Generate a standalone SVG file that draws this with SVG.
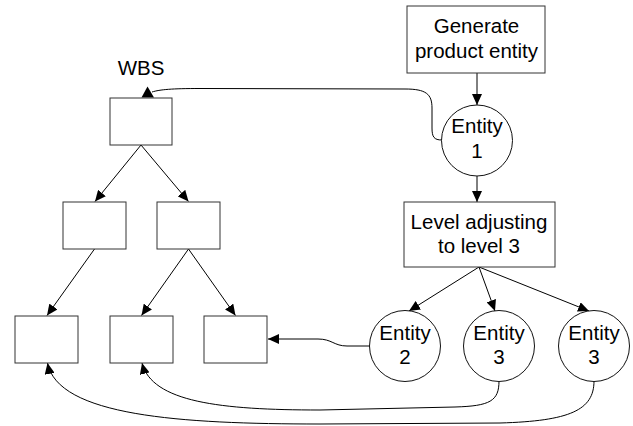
<svg xmlns="http://www.w3.org/2000/svg" width="633" height="426" viewBox="0 0 633 426">
<style>
.box{fill:#fff;stroke:#333;stroke-width:1}
.ent{fill:#fff;stroke:#111;stroke-width:1}
.ln{fill:none;stroke:#000;stroke-width:1}
.arr{marker-end:url(#ah)}
text{font-family:"Liberation Sans",Arial,sans-serif;font-size:20.5px;fill:#000;text-anchor:middle}
</style>
<defs>
<marker id="ah" viewBox="0 0 11 10" refX="11" refY="5" markerWidth="11" markerHeight="10" markerUnits="userSpaceOnUse" orient="auto">
<path d="M0,0 L11,5 L0,10 z" fill="#000"/>
</marker>
</defs>
<rect width="633" height="426" fill="#fff"/>
<g id="connectors">
<path class="ln arr" d="M141,145 L95,201.5"/>
<path class="ln arr" d="M141,145 L188.5,201.5"/>
<path class="ln arr" d="M94.5,249 L47,315.5"/>
<path class="ln arr" d="M188.5,249 L141.5,315.5"/>
<path class="ln arr" d="M188.5,249 L235.5,315.5"/>
<path class="ln arr" d="M477,73 L477,105"/>
<path class="ln arr" d="M477,176 L477,202"/>
<path class="ln arr" d="M479,267 L409,311"/>
<path class="ln arr" d="M479,267 L495,311"/>
<path class="ln arr" d="M479,267 L589,311"/>
<path class="ln" d="M442,140 C434,140 432,137 432,128 L432,108 C432,94 426,89 405,89 L200,88.5 C172,88.5 160,89.5 152,92"/>
<polygon points="147.5,86.5 141.5,97.5 154,97.5" fill="#000"/>
<path class="ln arr" d="M370,346 L347,346 C334,346 332,339 318,339 L268,339"/>
<path class="ln arr" d="M499,381 C499,401 490,406 455,407 L320,410 C220,410 152,402 142,363"/>
<path class="ln arr" d="M594,381 C594,410 570,421 500,423 L320,424 C180,424 58,416 47.5,363"/>
</g>
<g id="wbs-label"><text x="141" y="75">WBS</text></g>
<g id="wbs-root"><rect class="box" x="110" y="98" width="62" height="47"/></g>
<g id="wbs-l2a"><rect class="box" x="63" y="202" width="63" height="47"/></g>
<g id="wbs-l2b"><rect class="box" x="157" y="202" width="63" height="47"/></g>
<g id="wbs-l3a"><rect class="box" x="15" y="316" width="63" height="47"/></g>
<g id="wbs-l3b"><rect class="box" x="110" y="316" width="63" height="47"/></g>
<g id="wbs-l3c"><rect class="box" x="204" y="316" width="63" height="47"/></g>
<g id="generate">
<rect class="box" x="407" y="6" width="138" height="67"/>
<text x="476.5" y="33">Generate</text>
<text x="476.5" y="58">product entity</text>
</g>
<g id="entity1">
<circle class="ent" cx="477" cy="140.5" r="35.5"/>
<text x="477" y="133">Entity</text>
<text x="477" y="158">1</text>
</g>
<g id="level">
<rect class="box" x="404" y="202" width="151" height="65"/>
<text x="479" y="228.5">Level adjusting</text>
<text x="479" y="252.5">to level 3</text>
</g>
<g id="entity2">
<circle class="ent" cx="405" cy="346" r="35.5"/>
<text x="405" y="340">Entity</text>
<text x="405" y="364">2</text>
</g>
<g id="entity3a">
<circle class="ent" cx="499" cy="346" r="35.5"/>
<text x="499" y="340">Entity</text>
<text x="499" y="364">3</text>
</g>
<g id="entity3b">
<circle class="ent" cx="594" cy="346" r="35.5"/>
<text x="594" y="340">Entity</text>
<text x="594" y="364">3</text>
</g>
</svg>
